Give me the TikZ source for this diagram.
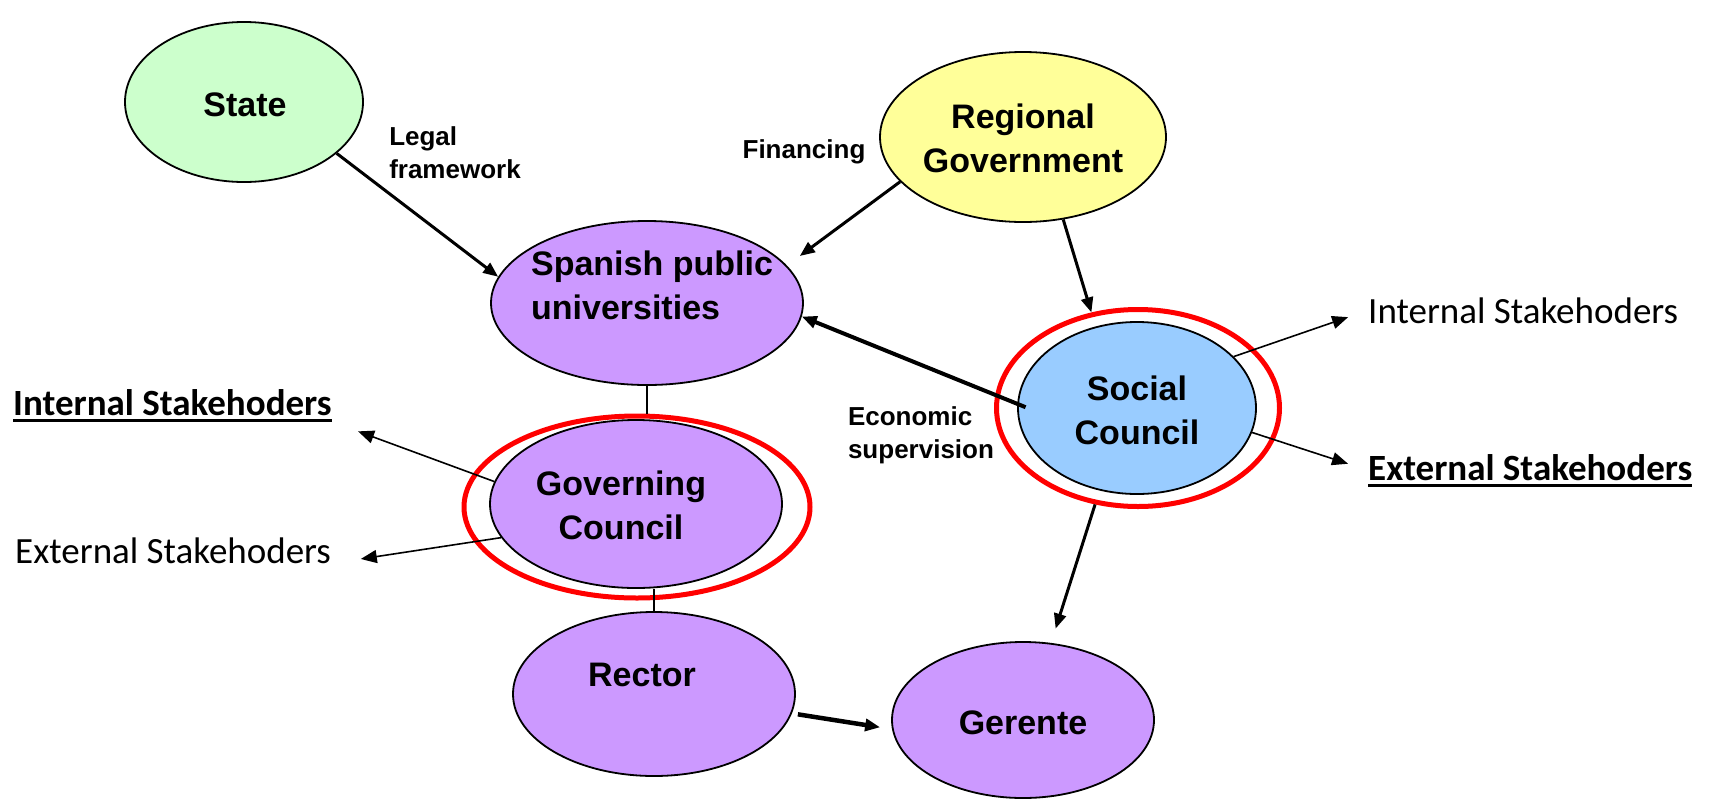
\documentclass[tikz,border=0pt]{standalone}
\usepackage{fontspec}
\setmainfont{Liberation Sans}
\newfontfamily\calibrifont{Carlito}
\usetikzlibrary{shapes.geometric,arrows.meta}
\definecolor{stategreen}{HTML}{CCFFCC}
\definecolor{regionyellow}{HTML}{FFFF99}
\definecolor{unipurple}{HTML}{CC99FF}
\definecolor{socialblue}{HTML}{99CCFF}
\newcommand{\stakeul}[1]{\setbox0=\hbox{#1}\rlap{\rule[-6.5pt]{\wd0}{3pt}}\box0}

\begin{document}
\begin{tikzpicture}[x=1pt, y=-1pt,
  blob/.style={ellipse, draw, line width=1.8pt, inner sep=0pt},
  ring/.style={ellipse, draw=red, line width=5pt, inner sep=0pt},
  title/.style={font=\fontsize{34}{44}\selectfont\bfseries, align=center, inner sep=0pt},
  note/.style={font=\fontsize{26}{33}\selectfont\bfseries, align=left, inner sep=0pt},
  stake/.style={font=\calibrifont\fontsize{37}{44}\selectfont, inner sep=0pt, anchor=base west},
  link/.style={-{Triangle[length=15pt,width=12pt]}, line width=3pt},
  feed/.style={-{Triangle[length=16pt,width=13pt]}, line width=1.6pt}]
  \useasboundingbox (0,0) rectangle (1709,801);

  \node (state) [blob, fill=stategreen, minimum width=238pt, minimum height=160pt] at (244,102) {};
  \node (regional) [blob, fill=regionyellow, minimum width=286pt, minimum height=170pt] at (1023,137) {};
  \node (spanish) [blob, fill=unipurple, minimum width=312pt, minimum height=164pt] at (647,303) {};
  \node (socring) [ring, minimum width=283pt, minimum height=197pt] at (1138,408) {};
  \node (social) [blob, fill=socialblue, minimum width=238pt, minimum height=172pt] at (1137,408) {};
  \node (govring) [ring, minimum width=346pt, minimum height=182pt] at (637,507) {};
  \node (gov) [blob, fill=unipurple, minimum width=292pt, minimum height=168pt] at (636,504) {};
  \node (rector) [blob, fill=unipurple, minimum width=282pt, minimum height=164pt] at (654,694) {};
  \node (gerente) [blob, fill=unipurple, minimum width=262pt, minimum height=156pt] at (1023,720) {};

  \node (statetxt) [title] at ([shift={(1,3)}]state.center) {State};
  \node (regionaltxt) [title] at ([shift={(0,1)}]regional.center) {Regional\\Government};
  \node (spanishtxt) [title, align=left] at ([shift={(5,-18)}]spanish.center) {Spanish public\\universities};
  \node (socialtxt) [title] at ([shift={(0,2)}]social.center) {Social\\Council};
  \node (govtxt) [title] at ([shift={(-15,1)}]gov.center) {Governing\\Council};
  \node (rectortxt) [title] at ([shift={(-12,-19)}]rector.center) {Rector};
  \node (gerentetxt) [title] at ([shift={(0,3)}]gerente.center) {Gerente};

  \node (legal) [note] at (455,153) {Legal\\framework};
  \node (financing) [note] at (804,152) {Financing};
  \node (economic) [note] at (921,435) {Economic\\supervision};

  \node (intR) [stake] at (1368,323) {Internal Stakehoders};
  \node (extR) [stake] at (1368,480) {\stakeul{\bfseries External Stakehoders}};
  \node (intL) [stake] at (13,415) {\stakeul{\bfseries Internal Stakehoders}};
  \node (extL) [stake] at (15,563) {External Stakehoders};

  \draw[line width=1.5pt] (spanish.south) -- (spanish.south |- govring.north);
  \draw[line width=1.5pt] (rector.north) -- (rector.north |- gov.south);

  \draw[link] (state.-29) -- (spanish.170);
  \draw[link, shorten >=16pt] (regional.-160) -- (spanish.15);
  \draw[link] (regional.-64) -- (socring.116);
  \draw[link, shorten >=15pt] (socring.-114) -- (gerente.70);
  \draw[link, line width=4pt, shorten <=-9pt] (social.178) -- (spanish.-5);
  \draw[link, line width=4.5pt, shorten <=6pt, shorten >=12pt] (rector.-8) -- (gerente.184);

  \draw[feed, shorten >=21pt] (social.28) -- (intR.west);
  \draw[feed, shorten >=21pt] (social.-12) -- (extR.west);
  \draw[feed, shorten >=28pt] (gov.171) -- (intL.south east);
  \draw[feed, shorten >=30pt] (gov.194) -- (extL.south east);
\end{tikzpicture}
\end{document}
